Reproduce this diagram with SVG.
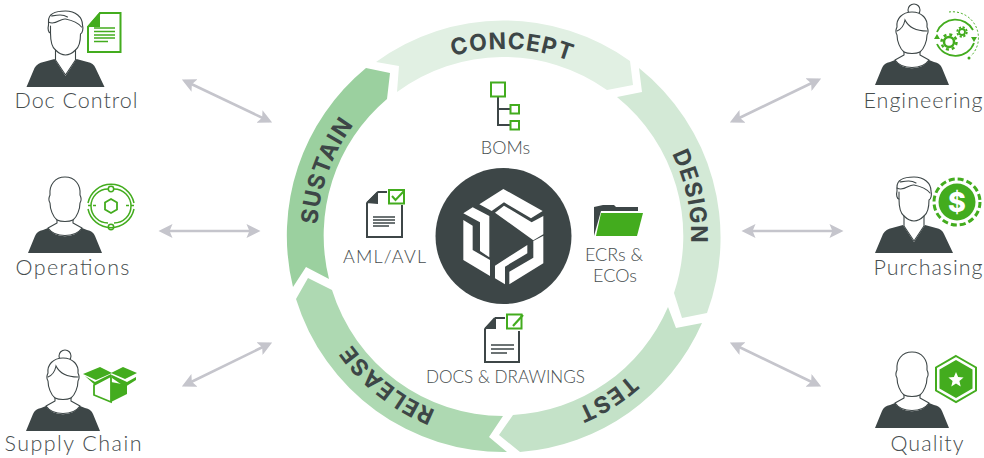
<svg xmlns="http://www.w3.org/2000/svg" xmlns:xlink="http://www.w3.org/1999/xlink" width="984" height="458" viewBox="0 0 984 458">
<style>
.lbl{font-family:"Lato","Liberation Sans",sans-serif;font-weight:300;fill:#464d4e;text-anchor:middle}
.role{font-size:21.500px}
.art{font-size:18px}
.ring{font-family:"Inter","Liberation Sans",sans-serif;font-weight:700;font-size:23px;letter-spacing:1px;fill:#3d4647;text-anchor:middle}
.bust{fill:#3d4647}
.outline{fill:#fff;stroke:#3d4647;stroke-width:1.100;stroke-linejoin:round}
.hair{fill:none;stroke:#3d4647;stroke-width:1.100;stroke-linecap:round}
.g{fill:#43ac1e}
.gb{fill:#fff;stroke:#43ac1e;stroke-width:2}
.d{fill:none;stroke:#3d4647;stroke-width:2}
.dl{fill:none;stroke:#3d4647;stroke-width:1.400}
.conn{stroke:#c5c5cc;stroke-width:2.600;fill:none;marker-start:url(#head);marker-end:url(#head)}
</style>
<defs>
<marker id="head" viewBox="0 0 12 12" refX="9" refY="6" markerWidth="5.400" markerHeight="5.400" orient="auto-start-reverse"><path d="M0,0 L12,6 L0,12 L2.500,6 Z" fill="#c5c5cc"/></marker>
<path id="ringpath" d="M504,423 A187,187 0 1 1 504,49 A187,187 0 1 1 504,423"/>
<g id="man">
<path class="bust" d="M-39,0 L-31,-19 Q-28,-24 -22,-25 L-11,-28 L0,-11 L11,-28 L22,-25 Q28,-24 30,-19 L39,0 Z"/>
<path class="outline" d="M-10,-27 V-37 C-14,-40 -15,-48 -15,-54 C-17,-54 -18,-58 -17,-62 L-17,-66 C-17,-74 -8,-76 0,-76 C10,-76 17,-70 17,-62 C18,-58 17,-54 15,-53 C15,-46 14,-40 10,-37 V-27 L0,-12 Z"/>
<path class="hair" d="M-10,-37 C-6,-33 -3,-32 0,-32 C3,-32 6,-33 10,-37 M-17,-65 C-10,-61 -5,-69 0,-68 C5,-67 12,-65 16,-60 M-15,-54 L-15,-61 M-14,-71 C-8,-72 -3,-73 2,-70"/>
</g>
<g id="bare">
<path class="bust" d="M-37,0 L-30,-17 Q-28,-22 -22,-23 L-17,-25 C-10,-14 10,-14 17,-25 L22,-23 Q28,-22 30,-17 L37,0 Z"/>
<path class="outline" d="M-8,-33 L-8,-30 L-17,-25 C-10,-15 10,-15 17,-25 L8,-30 L8,-33 C12,-36 15,-44 15,-50 C17,-53 16,-56 15,-58 C16,-68 10,-76 0,-76 C-10,-76 -16,-68 -15,-58 C-16,-56 -17,-53 -15,-50 C-15,-44 -12,-36 -8,-33 Z"/>
<path class="hair" d="M-8,-33 C-4,-31 4,-31 8,-33"/>
</g>
<g id="bun">
<path class="bust" d="M-37,0 L-30,-17 Q-28,-22 -22,-23 L-17,-25 C-10,-14 10,-14 17,-25 L22,-23 Q28,-22 30,-17 L37,0 Z"/>
<circle class="outline" cx="2" cy="-75" r="6"/>
<path class="outline" d="M-8,-33 L-8,-30 L-17,-25 C-10,-15 10,-15 17,-25 L8,-30 L8,-33 C12,-36 15,-44 15,-50 C17,-53 16,-56 15,-58 C16,-66 10,-73 0,-73 C-10,-73 -16,-66 -15,-58 C-16,-56 -17,-53 -15,-50 C-15,-44 -12,-36 -8,-33 Z"/>
<path class="hair" d="M-8,-33 C-4,-31 4,-31 8,-33 M-15,-54 C-10,-56 -8,-60 -7,-65 C-3,-57 6,-54 15,-54"/>
</g>
</defs>
<rect width="984" height="458" fill="#fff"/>

<g id="connectors">
<line class="conn" x1="185" y1="81" x2="269" y2="121"/>
<line class="conn" x1="162" y1="231" x2="257" y2="231"/>
<line class="conn" x1="185" y1="385" x2="269" y2="344"/>
<line class="conn" x1="818" y1="80" x2="733" y2="121"/>
<line class="conn" x1="745" y1="231" x2="840" y2="231"/>
<line class="conn" x1="733" y1="344" x2="818" y2="385"/>
</g>

<g id="ring">
<path fill="#e1f0e3" d="M376,62 L399,66 L397,92 A179,179 0 0 1 607,90 L633,85 L630,61 A217,217 0 0 0 376,62 Z"/>
<path fill="#d3e9d6" d="M639,68 L642,92 L617,97 A179,179 0 0 1 674,293 L682,318 L707,313 A217,217 0 0 0 639,68 Z"/>
<path fill="#c4e2c8" d="M702,323 L676,328 L668,307 A179,179 0 0 1 513,415 L499,435 L520,452 A217,217 0 0 0 702,323 Z"/>
<path fill="#aed9b2" d="M507,452 L489,437 L503,416 A179,179 0 0 1 332,290 L308,278 L296,299 A217,217 0 0 0 507,452 Z"/>
<path fill="#9bd09f" d="M293,287 L306,267 L329,279 A179,179 0 0 1 387,99 L390,73 L366,68 A217,217 0 0 0 293,287 Z"/>
<text class="ring"><textPath href="#ringpath" xlink:href="#ringpath" startOffset="50.700%">CONCEPT</textPath></text>
<text class="ring"><textPath href="#ringpath" xlink:href="#ringpath" startOffset="71.700%">DESIGN</textPath></text>
<text class="ring"><textPath href="#ringpath" xlink:href="#ringpath" startOffset="91%">TEST</textPath></text>
<text class="ring"><textPath href="#ringpath" xlink:href="#ringpath" startOffset="10.600%">RELEASE</textPath></text>
<text class="ring"><textPath href="#ringpath" xlink:href="#ringpath" startOffset="30.600%">SUSTAIN</textPath></text>
</g>

<g id="logo">
<circle cx="503.500" cy="236" r="68" fill="#3d4647"/>
<g transform="translate(430,165) scale(0.3333)" fill="#fff">
<polygon points="148,118 220,72 338,138 303,160 222,112 185,138"/>
<polygon points="195,143 222,122 305,172 340,153 340,208 310,226"/>
<polygon points="100,145 128,127 178,153 178,277 150,258 150,172"/>
<polygon points="100,165 128,182 128,255 180,285 180,333 100,285"/>
<polygon points="195,302 292,240 292,265 225,305 225,358 195,340"/>
<polygon points="238,320 310,278 310,228 340,212 340,295 238,358"/>
</g>
</g>

<g id="boms">
<path class="d" d="M498,96 V125 H510 M498,109 H510"/>
<rect class="gb" x="491" y="82.500" width="14" height="14"/>
<rect class="gb" x="510.500" y="105" width="8.500" height="8.500"/>
<rect class="gb" x="510.500" y="121" width="8.500" height="8.500"/>
<text class="lbl art" x="505.500" y="154">BOMs</text>
</g>

<g id="aml">
<path class="d" d="M378,192 H387 M367,203 V237 H402 V205 M367,203 L378,192"/>
<polygon points="366,203 378,191 378,204" fill="#3d4647"/>
<path class="dl" d="M373,217 H395 M373,220 H395 M373,223 H395 M373,226 H389"/>
<rect class="gb" x="389" y="190" width="15" height="13.500"/>
<path fill="none" stroke="#43ac1e" stroke-width="2" d="M392,196 L395.500,200 L404,191"/>
<text class="lbl art" x="384.500" y="263" textLength="83" lengthAdjust="spacing">AML/AVL</text>
</g>

<g id="ecrs">
<path fill="#3d4647" d="M594,207 L603,205 L614,205 L616,207 L638,207 V211 H601 L594,236 Z"/>
<polygon class="g" points="601,213 643,213 637,236 596,236"/>
<text class="lbl art" x="614" y="261">ECRs &amp;</text>
<text class="lbl art" x="615" y="282">ECOs</text>
</g>

<g id="docs">
<path class="d" d="M495,318 H505 M485,329 V362 H519 V331 M485,329 L495,318"/>
<polygon points="484,329 496,317 496,329" fill="#3d4647"/>
<path class="dl" d="M491,345 H514 M491,349 H514 M491,353 H507"/>
<rect class="gb" x="507" y="314.500" width="14.500" height="14"/>
<path fill="none" stroke="#43ac1e" stroke-width="2.200" d="M513,326 L523,315"/>
<text class="lbl art" x="505.500" y="383" textLength="159" lengthAdjust="spacingAndGlyphs">DOCS &amp; DRAWINGS</text>
</g>

<g id="doc-control">
<use href="#man" xlink:href="#man" x="65.500" y="87"/>
<path d="M88,27 L100,13 H120.500 V52 H88 Z" fill="#fff" stroke="#43ac1e" stroke-width="2"/>
<polygon class="g" points="87,27 100,12 100,27"/>
<path fill="none" stroke="#43ac1e" stroke-width="1.300" d="M94,28 H115 M94,31.500 H115 M94,35 H115 M94,38 H115 M94,41.500 H108"/>
<text class="lbl role" x="76" y="108" textLength="123" lengthAdjust="spacing">Doc Control</text>
</g>

<g id="operations">
<use href="#bare" xlink:href="#bare" x="65" y="253"/>
<g fill="none" stroke="#43ac1e" stroke-width="1.500">
<path d="M88,203 A23.500,23.500 0 0 1 134,203 M134,209 A23.500,23.500 0 0 1 88,209"/>
<path d="M108,189 A17,17 0 0 0 108,223 M114,189 A17,17 0 0 1 114,223"/>
<circle cx="111" cy="189" r="2.700"/><circle cx="111" cy="227" r="2.700"/>
<polygon points="111,199 117,202.500 117,209.500 111,213 105,209.500 105,202.500" stroke-width="1.800"/>
<path d="M88,205.500 H91 M93,205.500 H96 M126,205.500 H129 M131,205.500 H134"/>
</g>
<text class="lbl role" x="72.500" y="275" textLength="114" lengthAdjust="spacing">Operations</text>
</g>

<g id="supply-chain">
<use href="#bun" xlink:href="#bun" x="63" y="431"/>
<polygon class="g" points="83,374 100,367 112,373 96,380"/>
<polygon class="g" points="111,373 123,367 137,373 125,379"/>
<polygon class="g" points="85,376 95,382 111,374 111,378 96,386"/>
<polygon points="94,385 111,376 111,402 94,395" fill="#fff" stroke="#43ac1e" stroke-width="1.800"/>
<polygon class="g" points="111,382 127,385 127,394 111,402"/>
<polygon class="g" points="112,375 127,382 136,377 136,380 125,387 112,378"/>
<text class="lbl role" x="73" y="451" textLength="137" lengthAdjust="spacing">Supply Chain</text>
</g>

<g id="engineering">
<use href="#bun" xlink:href="#bun" x="912" y="85"/>
<path fill="none" stroke="#43ac1e" stroke-width="1.800" d="M937,32 A20,20 0 0 1 973,30 M974,43 A20,20 0 0 1 937,44"/>
<path fill="none" stroke="#43ac1e" stroke-width="1" stroke-dasharray="2 2" d="M949,12 A26,26 0 0 1 971,56"/>
<polygon class="g" points="937,34 934,39 940,39"/>
<polygon class="g" points="974,42 971,37 977,37"/>
<circle class="g" cx="969" cy="58" r="1.500"/>
<circle cx="949" cy="42" r="5" fill="none" stroke="#43ac1e" stroke-width="2.500"/>
<circle cx="949" cy="42" r="7.500" fill="none" stroke="#43ac1e" stroke-width="2.500" stroke-dasharray="3 2.900"/>
<circle cx="962" cy="32" r="3" fill="none" stroke="#43ac1e" stroke-width="1.800"/>
<circle cx="962" cy="32" r="4.800" fill="none" stroke="#43ac1e" stroke-width="1.800" stroke-dasharray="2.200 1.570"/>
<text class="lbl role" x="923" y="108" textLength="119" lengthAdjust="spacing">Engineering</text>
</g>

<g id="purchasing">
<use href="#man" xlink:href="#man" x="914" y="253"/>
<circle class="g" cx="957" cy="202" r="18.500"/>
<circle cx="957" cy="202" r="23" fill="none" stroke="#43ac1e" stroke-width="3" stroke-dasharray="6 3.030"/>
<text x="957" y="212" font-family="Inter,'Liberation Sans',sans-serif" font-weight="800" font-size="27" fill="#fff" text-anchor="middle">$</text>
<text class="lbl role" x="928" y="275" textLength="109" lengthAdjust="spacing">Purchasing</text>
</g>

<g id="quality">
<use href="#bare" xlink:href="#bare" x="912" y="428"/>
<polygon points="956,356 976,367.500 976,390.500 956,402 936,390.500 936,367.500" fill="#fff" stroke="#43ac1e" stroke-width="2"/>
<polygon class="g" points="956,360 972.500,369.500 972.500,388.500 956,398 939.500,388.500 939.500,369.500"/>
<polygon fill="#fff" points="956,372 958.100,377.100 963.600,377.500 959.400,381 960.700,386.400 956,383.500 951.300,386.400 952.600,381 948.400,377.500 953.900,377.100"/>
<text class="lbl role" x="927" y="451" textLength="73" lengthAdjust="spacing">Quality</text>
</g>
</svg>
